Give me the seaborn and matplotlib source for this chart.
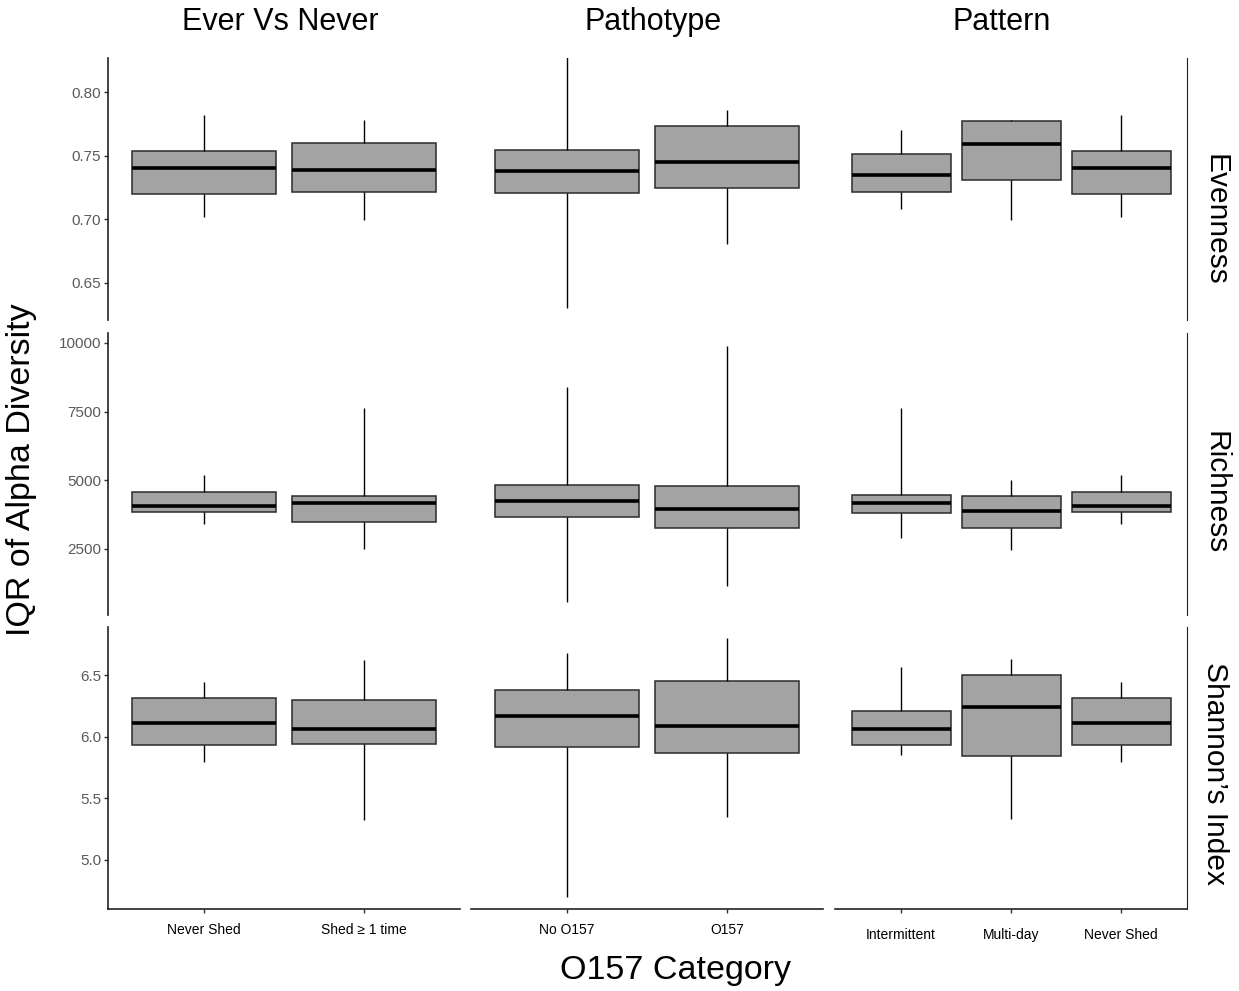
import seaborn as sns
import matplotlib.pyplot as plt
import pandas as pd

# facet layout: columns are the O157 groupings, rows are the diversity metrics
groupings = ["Ever Vs Never", "Pathotype", "Pattern"]
metrics = ["Evenness", "Richness", "Shannon\u2019s Index"]

ever_cats = ["Never Shed", "Shed \u2265 1 time"]
patho_cats = ["No O157", "O157"]
pattern_cats = ["Intermittent", "Multi-day", "Never Shed"]

# five-number summaries: [whisker low, Q1, median, Q3, whisker high]
# order: Never Shed, Shed>=1, No O157, O157, Intermittent, Multi-day, Never Shed
evenness_stats = [
    [0.702, 0.720, 0.7405, 0.754, 0.782],
    [0.699, 0.7215, 0.739, 0.760, 0.778],
    [0.630, 0.7208, 0.738, 0.7547, 0.830],
    [0.6805, 0.7247, 0.7453, 0.7737, 0.786],
    [0.708, 0.7216, 0.735, 0.7516, 0.7705],
    [0.699, 0.731, 0.7595, 0.777, 0.7785],
    [0.702, 0.720, 0.7405, 0.754, 0.782],
]
richness_stats = [
    [3400, 3836, 4054, 4564, 5183],
    [2490, 3471, 4163, 4418, 7640],
    [560, 3654, 4236, 4818, 8400],
    [1140, 3254, 3945, 4782, 9900],
    [2890, 3800, 4163, 4454, 7640],
    [2450, 3254, 3872, 4418, 5000],
    [3400, 3836, 4054, 4564, 5183],
]
shannon_stats = [
    [5.797, 5.93, 6.108, 6.314, 6.44],
    [5.325, 5.94, 6.06, 6.297, 6.62],
    [4.70, 5.916, 6.168, 6.378, 6.678],
    [5.35, 5.87, 6.087, 6.45, 6.80],
    [5.85, 5.93, 6.06, 6.21, 6.565],
    [5.33, 5.84, 6.24, 6.50, 6.63],
    [5.797, 5.93, 6.108, 6.314, 6.44],
]

# build long table: each box is represented by its five summary values,
# drawn with whiskers at min/max so the quartiles come out exactly
box_group = ["Ever Vs Never"] * 2 + ["Pathotype"] * 2 + ["Pattern"] * 3
box_cat = ever_cats + patho_cats + pattern_cats
rows = []
for metric, stats in zip(metrics, [evenness_stats, richness_stats, shannon_stats]):
    for g, c, s in zip(box_group, box_cat, stats):
        for v in s:
            rows.append({"metric": metric, "group": g, "cat": c, "value": v})
df = pd.DataFrame(rows)
cat_order = {"Ever Vs Never": ever_cats, "Pathotype": patho_cats, "Pattern": pattern_cats}

sns.set_theme(style="white")
plt.rcParams["font.family"] = ["Liberation Sans", "DejaVu Sans"]
plt.rcParams["text.color"] = "black"

W, H = 1239, 991
fig = plt.figure(figsize=(W / 100, H / 100), dpi=100)

col_x = [(108, 460), (471, 823), (835, 1187)]
row_y = [(58, 320), (333, 615), (627, 909)]
ylims = [(0.6205, 0.827), (90, 10360), (4.60, 6.89)]
yticks = [[0.65, 0.70, 0.75, 0.80], [2500, 5000, 7500, 10000], [5.0, 5.5, 6.0, 6.5]]
yticklabels = [["0.65", "0.70", "0.75", "0.80"], ["2500", "5000", "7500", "10000"],
               ["5.0", "5.5", "6.0", "6.5"]]

for i, metric in enumerate(metrics):
    for j, grp in enumerate(groupings):
        x0, x1 = col_x[j]
        y0, y1 = row_y[i]
        ax = fig.add_axes([x0 / W, 1 - y1 / H, (x1 - x0) / W, (y1 - y0) / H])
        sub = df[(df.metric == metric) & (df.group == grp)]
        order = cat_order[grp]
        sns.boxplot(data=sub, x="cat", y="value", order=order, ax=ax,
                    whis=(0, 100), width=0.9, color="#A3A3A3", saturation=1,
                    linecolor="#2b2b2b", linewidth=1.1, showcaps=False, fliersize=0,
                    medianprops={"color": "black", "linewidth": 2.6},
                    whiskerprops={"color": "black", "linewidth": 1.0})
        n = len(order)
        ax.set_xlim(-0.6, n - 1 + 0.6)
        ax.set_ylim(*ylims[i])
        ax.set_xlabel("")
        ax.set_ylabel("")
        for s in ax.spines.values():
            s.set_visible(False)
        if j == 0:
            ax.spines["left"].set_visible(True)
            ax.spines["left"].set_linewidth(1.2)
            ax.spines["left"].set_color("#222222")
            ax.set_yticks(yticks[i])
            ax.set_yticklabels(yticklabels[i])
            ax.tick_params(axis="y", left=True, length=3, width=1, color="#333333",
                           labelsize=11, labelcolor="#5a5a5a", pad=2)
        else:
            ax.set_yticks([])
        if j == 2:
            ax.spines["right"].set_visible(True)
            ax.spines["right"].set_linewidth(0.8)
            ax.spines["right"].set_color("#222222")
        if i == 2:
            ax.spines["bottom"].set_visible(True)
            ax.spines["bottom"].set_linewidth(1.2)
            ax.spines["bottom"].set_color("#222222")
            ax.tick_params(axis="x", bottom=True, length=3, width=1, color="#333333",
                           labelsize=10, labelcolor="black",
                           pad=11 if j == 2 else 7)
        else:
            ax.set_xticks([])

# column strips
for name, cx in zip(groupings, [280, 653, 1002]):
    fig.text(cx / W, 1 - 22 / H, name, ha="center", va="center", fontsize=22,
             color="black")

# row strips
for name, cy in zip(metrics, [220, 493, 773]):
    fig.text(1215 / W, 1 - cy / H, name, ha="center", va="center",
             rotation=-90, fontsize=21.5, color="black")

fig.text(22 / W, 1 - 470 / H, "IQR of Alpha Diversity", ha="center", va="center",
         rotation=90, fontsize=24.5, color="black")
fig.text(676 / W, 1 - 970 / H, "O157 Category", ha="center", va="center",
         fontsize=24.5, color="black")

fig.savefig("out.png", dpi=100, facecolor="white")
